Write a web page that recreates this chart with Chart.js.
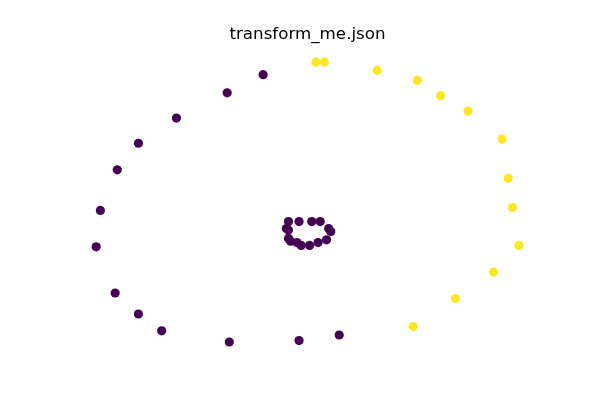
<!DOCTYPE html>
<html>
<head>
<meta charset="utf-8">
<script src="https://cdn.jsdelivr.net/npm/chart.js@4/dist/chart.umd.min.js"></script>
<style>
  html, body { margin: 0; padding: 0; background: #ffffff; }
  #wrap { width: 600px; height: 400px; }
</style>
</head>
<body>
<div id="wrap"><canvas id="c" width="600" height="400"></canvas></div>
<script>
const titleText = "transform_me.json";

// Class 0 (purple): outer ring part
const outerPurpleX = [-0.21, -0.38, -0.62, -0.80, -0.90, -0.98, -1.00, -0.91, -0.80, -0.69, -0.37, -0.04, 0.15];
const outerPurpleY = [0.91, 0.78, 0.60, 0.42, 0.23, -0.06, -0.32, -0.65, -0.80, -0.92, -1.00, -0.99, -0.95];

// Class 0 (purple): inner cluster
const innerPurpleX = [-0.09, -0.04, 0.02, 0.06, 0.10, 0.11, -0.10, -0.09, -0.09, -0.08, -0.05, -0.03, 0.01, 0.05, 0.09];
const innerPurpleY = [-0.14, -0.14, -0.14, -0.14, -0.19, -0.21, -0.19, -0.20, -0.26, -0.28, -0.29, -0.31, -0.31, -0.29, -0.27];

// Class 1 (yellow)
const yellowX = [0.04, 0.08, 0.33, 0.52, 0.63, 0.76, 0.92, 0.95, 0.97, 1.00, 0.88, 0.70, 0.50];
const yellowY = [1.00, 1.00, 0.94, 0.87, 0.76, 0.65, 0.45, 0.17, -0.04, -0.31, -0.50, -0.69, -0.89];

function pts(xs, ys) { return xs.map((x, i) => ({ x: x, y: ys[i] })); }

const purplePts = pts(outerPurpleX, outerPurpleY).concat(pts(innerPurpleX, innerPurpleY));
const yellowPts = pts(yellowX, yellowY);

new Chart(document.getElementById('c'), {
  type: 'scatter',
  data: {
    datasets: [
      { label: 'class 0', data: purplePts, backgroundColor: '#440154', borderWidth: 0, pointRadius: 4.6, pointHoverRadius: 4.6 },
      { label: 'class 1', data: yellowPts, backgroundColor: '#fde725', borderWidth: 0, pointRadius: 4.6, pointHoverRadius: 4.6 }
    ]
  },
  options: {
    responsive: false,
    animation: false,
    layout: { padding: { left: 75, right: 60, top: 0, bottom: 44 } },
    plugins: {
      legend: { display: false },
      tooltip: { enabled: false },
      title: {
        display: true,
        text: titleText,
        color: '#000000',
        font: { family: 'DejaVu Sans', size: 16.7, weight: 'normal', lineHeight: 1.2 },
        padding: { top: 25, bottom: 3 }
      }
    },
    scales: {
      x: { type: 'linear', display: false, min: -1.1, max: 1.1 },
      y: { type: 'linear', display: false, min: -1.1, max: 1.1 }
    }
  }
});
</script>
</body>
</html>
